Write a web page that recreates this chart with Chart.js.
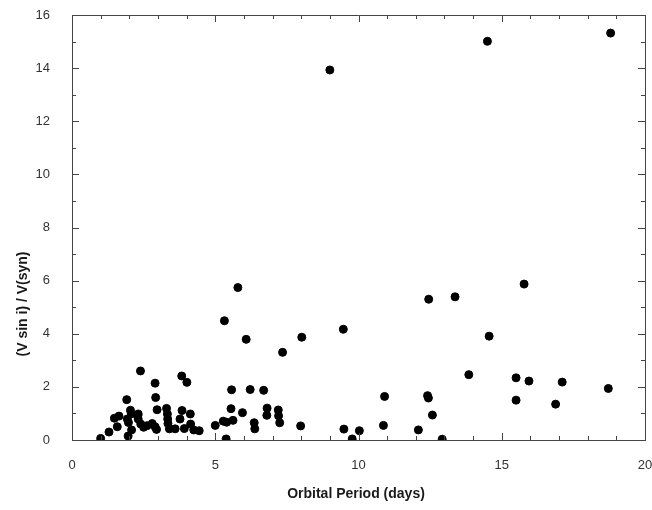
<!DOCTYPE html>
<html>
<head>
<meta charset="utf-8">
<script src="https://cdn.jsdelivr.net/npm/chart.js@4"></script>
<style>
  html, body { margin: 0; padding: 0; background: #fff; }
  .ratings_container { width: 652px; height: 510px; }
</style>
</head>
<body>
<div class="ratings_container"><canvas id="plot"></canvas></div>
<script>
// orbital period in days
const periods = [
  1.0, 1.29, 1.48, 1.58, 1.64, 1.91, 1.93, 1.96, 1.97, 2.04, 2.07, 2.08,
  2.3, 2.31, 2.31, 2.39, 2.4, 2.5, 2.62, 2.8, 2.9, 2.92, 2.9, 2.97, 2.95,
  3.3, 3.33, 3.34, 3.35, 3.4, 3.6, 3.77, 3.83, 3.84, 3.92, 4.01, 4.13, 4.14,
  4.25, 4.44, 5.0, 5.28, 5.38, 5.4, 5.32, 5.55, 5.57, 5.62, 5.79, 5.95,
  6.08, 6.22, 6.36, 6.38, 6.69, 6.81, 6.8, 7.2, 7.21, 7.25, 7.35, 7.98,
  8.02, 9.0, 9.47, 9.49, 9.78, 10.03, 10.87, 10.91, 12.09, 12.41, 12.44,
  12.45, 12.58, 12.92, 13.37, 13.85, 14.5, 14.56, 15.5, 15.5, 15.78, 15.95,
  16.88, 17.11, 18.72, 18.8
]

// (V sin i) / V(syn)
const ratios = [
  0.06, 0.3, 0.82, 0.5, 0.9, 1.52, 0.79, 0.15, 0.66, 1.12, 0.98, 0.38,
  0.92, 0.79, 0.98, 2.6, 0.6, 0.48, 0.54, 0.62, 2.14, 1.6, 0.5, 1.14, 0.4,
  1.19, 0.98, 0.79, 0.62, 0.42, 0.42, 0.79, 2.41, 1.11, 0.43, 2.17, 0.98, 0.6,
  0.38, 0.35, 0.55, 0.71, 0.04, 0.67, 4.49, 1.18, 1.89, 0.74, 5.74, 1.03,
  3.79, 1.9, 0.65, 0.42, 1.87, 1.2, 0.93, 1.13, 0.91, 0.65, 3.3, 0.53,
  3.87, 13.93, 4.17, 0.41, 0.04, 0.35, 0.55, 1.64, 0.38, 1.67, 1.58,
  5.3, 0.94, 0.03, 5.39, 2.46, 15.01, 3.91, 2.34, 1.5, 5.87, 2.22,
  1.35, 2.18, 1.94, 15.32
]

const xTitle = 'Orbital Period (days)'
const yTitle = '(V sin i) / V(syn)'

const ink = '#1a1a1a'
const axisInk = '#444'
const tickFont = { family: '"Liberation Sans", Arial, sans-serif', size: 13 }

// inward tick marks on all four sides, plus the top and right frame
const frameTicks = {
  id: 'frameTicks',
  afterDraw (chart) {
    const { ctx, chartArea: a, scales: { x, y } } = chart
    ctx.save()
    ctx.strokeStyle = axisInk
    ctx.lineWidth = 1
    ctx.beginPath()
    ctx.moveTo(a.left, a.top + 0.5)
    ctx.lineTo(a.right + 0.5, a.top + 0.5)
    ctx.lineTo(a.right + 0.5, a.bottom)
    for (let v = 0; v <= 20; v++) {
      const px = Math.round(x.getPixelForValue(v)) + 0.5
      const len = v % 5 === 0 ? 7 : 4
      ctx.moveTo(px, a.bottom); ctx.lineTo(px, a.bottom - len)
      ctx.moveTo(px, a.top); ctx.lineTo(px, a.top + len)
    }
    for (let v = 0; v <= 16; v++) {
      const py = Math.round(y.getPixelForValue(v)) + 0.5
      const len = v % 2 === 0 ? 7 : 4
      ctx.moveTo(a.left, py); ctx.lineTo(a.left + len, py)
      ctx.moveTo(a.right, py); ctx.lineTo(a.right - len, py)
    }
    ctx.stroke()

    ctx.fillStyle = ink
    ctx.font = 'bold 14px "Liberation Sans", Arial, sans-serif'
    ctx.textAlign = 'center'
    ctx.textBaseline = 'middle'
    ctx.fillText(xTitle, 356, 494)
    ctx.translate(23, 304)
    ctx.rotate(-Math.PI / 2)
    ctx.fillText(yTitle, 0, 0)
    ctx.restore()
  }
}

const config = {
  type: 'scatter',
  data: {
    datasets: [{
      data: periods.map((p, i) => ({ x: p, y: ratios[i] })),
      backgroundColor: '#000',
      borderColor: '#000',
      pointRadius: 4,
      pointHoverRadius: 4
    }]
  },
  options: {
    responsive: false,
    animation: false,
    layout: { padding: { left: 0, top: 15, right: 7, bottom: 0 } },
    scales: {
      x: {
        type: 'linear',
        min: 0,
        max: 20,
        grid: { display: false },
        border: { display: true, color: axisInk },
        ticks: { stepSize: 5, padding: 10, color: '#333', font: tickFont },
        afterFit: (s) => {
          s.height = 70
          s.paddingLeft = 0
          s.paddingRight = 0
        }
      },
      y: {
        min: 0,
        max: 16,
        grid: { display: false },
        border: { display: true, color: axisInk },
        ticks: { stepSize: 2, padding: 14, color: '#333', font: tickFont },
        afterFit: (s) => {
          s.width = 72
          s.paddingTop = 0
          s.paddingBottom = 0
        }
      }
    },
    plugins: {
      legend: { display: false },
      tooltip: { enabled: false }
    }
  },
  plugins: [frameTicks]
}

const $canvas = document.getElementById('plot')
$canvas.width = 652
$canvas.height = 510
new Chart($canvas.getContext('2d'), config) // eslint-disable-line
</script>
</body>
</html>
